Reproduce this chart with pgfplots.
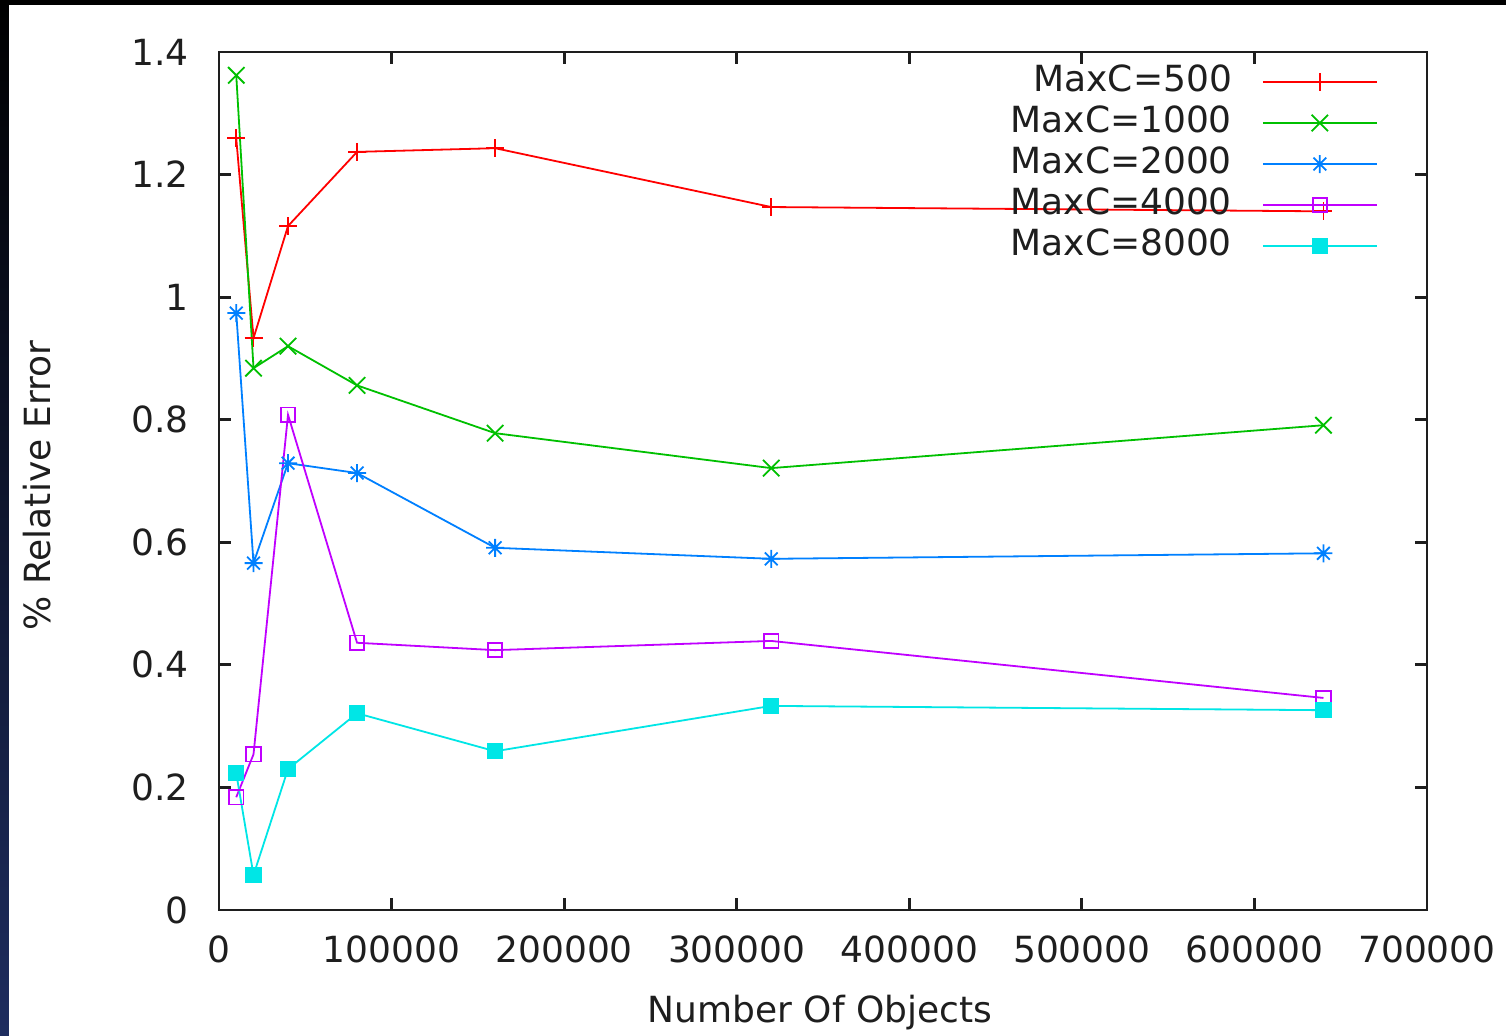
\documentclass[border=0pt]{standalone}
\usepackage{fontspec}
\setmainfont{DejaVu Sans}
\usepackage{pgfplots}
\pgfplotsset{compat=1.18}
\definecolor{gpred}{RGB}{255,0,0}
\definecolor{gpgreen}{RGB}{0,192,0}
\definecolor{gpblue}{RGB}{0,128,255}
\definecolor{gpmagenta}{RGB}{192,0,255}
\definecolor{gpcyan}{RGB}{0,230,230}
\definecolor{slideblue}{RGB}{30,45,95}
\definecolor{frame}{RGB}{30,30,30}

% gnuplot point type 3: + and x on top of each other
\pgfdeclareplotmark{gpstar}{%
  \pgfpathmoveto{\pgfqpoint{-\pgfplotmarksize}{0pt}}%
  \pgfpathlineto{\pgfqpoint{\pgfplotmarksize}{0pt}}%
  \pgfpathmoveto{\pgfqpoint{0pt}{-\pgfplotmarksize}}%
  \pgfpathlineto{\pgfqpoint{0pt}{\pgfplotmarksize}}%
  \pgfpathmoveto{\pgfqpoint{-0.707\pgfplotmarksize}{-0.707\pgfplotmarksize}}%
  \pgfpathlineto{\pgfqpoint{0.707\pgfplotmarksize}{0.707\pgfplotmarksize}}%
  \pgfpathmoveto{\pgfqpoint{-0.707\pgfplotmarksize}{0.707\pgfplotmarksize}}%
  \pgfpathlineto{\pgfqpoint{0.707\pgfplotmarksize}{-0.707\pgfplotmarksize}}%
  \pgfusepathqstroke}

\begin{document}
\begin{tikzpicture}
% slide background around the plot
\fill[black] (-109.5pt,-63pt) rectangle (643.5pt,455pt);
\shade[top color=black, bottom color=slideblue] (-109.5pt,-63pt) rectangle (-105pt,455pt);
\fill[white] (-105pt,-63pt) rectangle (643.5pt,452.5pt);

\begin{axis}[
    scale only axis,
    width=604pt, height=429pt,
    xmin=0, xmax=700000,
    ymin=0, ymax=1.4,
    xtick={0,100000,200000,300000,400000,500000,600000,700000},
    ytick={0,0.2,0.4,0.6,0.8,1,1.2,1.4},
    scaled x ticks=false,
    /pgf/number format/assume math mode=true,
    tick align=inside,
    major tick length=6pt,
    axis line style={line width=1.4pt, color=frame},
    every tick/.style={line width=1.4pt, color=frame},
    tick label style={font=\fontsize{18}{21}\selectfont, text=frame},
    yticklabel style={inner sep=0pt, xshift=-15pt},
    xticklabel style={inner sep=0pt, yshift=-12.5pt,
        /pgf/number format/fixed, /pgf/number format/1000 sep={}},
    xlabel={Number Of Objects},
    ylabel={\% Relative Error},
    label style={font=\fontsize{18}{21}\selectfont, text=frame},
    xlabel style={at={(axis description cs:0.4975,-0.099)}, anchor=north, inner sep=0pt},
    ylabel style={at={(axis description cs:-0.151,0.495)}, anchor=center, inner sep=0pt},
    legend style={at={(0.9645,0.994)}, anchor=north east, draw=none, fill=none,
        font=\fontsize{18}{21}\selectfont, text=frame,
        nodes={inner sep=1pt, text height=14pt, text depth=4.5pt},
        column sep=14pt},
    legend cell align=right,
    legend plot pos=right,
    legend image code/.code={\draw[mark repeat=2,mark phase=2,#1] plot coordinates {(0pt,0pt) (28.5pt,0pt) (57pt,0pt)};},
    every axis plot/.append style={line width=0.9pt},
    clip=false,
]

\addplot[color=gpred, mark=+, mark size=4.5pt] coordinates {
    (10000,1.259) (20000,0.933) (40000,1.116) (80000,1.237)
    (160000,1.243) (320000,1.147) (640000,1.140)
};
\addlegendentry{MaxC=500}

\addplot[color=gpgreen, mark=x, mark size=5.8pt] coordinates {
    (10000,1.362) (20000,0.884) (40000,0.920) (80000,0.856)
    (160000,0.778) (320000,0.721) (640000,0.791)
};
\addlegendentry{MaxC=1000}

\addplot[color=gpblue, mark=gpstar, mark size=4.5pt] coordinates {
    (10000,0.974) (20000,0.566) (40000,0.729) (80000,0.713)
    (160000,0.591) (320000,0.573) (640000,0.582)
};
\addlegendentry{MaxC=2000}

\addplot[color=gpmagenta, mark=square, mark size=3.6pt] coordinates {
    (10000,0.184) (20000,0.254) (40000,0.808) (80000,0.436)
    (160000,0.424) (320000,0.439) (640000,0.346)
};
\addlegendentry{MaxC=4000}

\addplot[color=gpcyan, mark=square*, mark size=3.6pt] coordinates {
    (10000,0.223) (20000,0.057) (40000,0.230) (80000,0.321)
    (160000,0.259) (320000,0.333) (640000,0.326)
};
\addlegendentry{MaxC=8000}

\end{axis}
\pgfresetboundingbox
\path[use as bounding box] (-109.5pt,-63pt) rectangle (643.5pt,455pt);
\end{tikzpicture}
\end{document}
